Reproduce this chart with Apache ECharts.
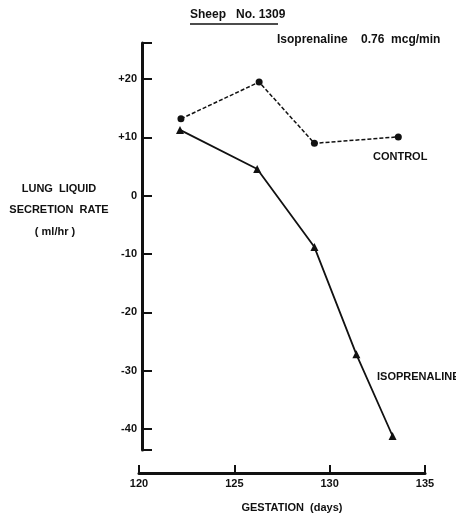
<!DOCTYPE html>
<html><head><meta charset="utf-8">
<script src="https://cdn.jsdelivr.net/npm/echarts@6/dist/echarts.min.js"></script>
<style>html,body{margin:0;padding:0;background:#fff}#c{width:456px;height:515px}</style>
</head><body><div id="c"></div>
<script>
var controlDays = [122.2, 126.3, 129.2, 133.6];
var controlRate = [13.2, 19.5, 9.0, 10.1];
var isoDays = [122.15, 126.2, 129.2, 131.4, 133.3];
var isoRate = [11.3, 4.6, -8.8, -27.2, -41.2];
var xTicks = [120, 125, 130, 135];
var yTicks = [20, 10, 0, -10, -20, -30, -40];

var FONT = "'Liberation Sans Narrow','Liberation Sans',Arial,sans-serif";
var INK = '#111';
function pairs(xs, ys){ return xs.map(function(x,i){ return [x, ys[i]]; }); }

var chart = echarts.init(document.getElementById('c'), null, {renderer:'canvas'});
chart.setOption({
  backgroundColor: '#fff',
  animation: false,
  grid: {left: 139, right: 31, top: 43, bottom: 65, containLabel: false},
  xAxis: {
    type: 'value', min: 120, max: 135, interval: 5, offset: 23,
    axisLine: {show: true, onZero: false, lineStyle: {color: INK, width: 3}},
    axisTick: {show: true, inside: true, length: 8, lineStyle: {color: INK, width: 2}},
    axisLabel: {color: INK, fontFamily: FONT, fontWeight: 'bold', fontSize: 11, margin: 5,
      customValues: xTicks},
    splitLine: {show: false}
  },
  yAxis: {
    type: 'value', min: -43.6, max: 26.2, offset: -3,
    axisLine: {show: true, onZero: false, lineStyle: {color: INK, width: 3}},
    axisTick: {show: true, inside: true, length: 10, lineStyle: {color: INK, width: 2}, customValues: yTicks.concat([-43.6, 26.2])},
    axisLabel: {color: INK, fontFamily: FONT, fontWeight: 'bold', fontSize: 11, margin: 5,
      customValues: yTicks,
      formatter: function(v){ return v > 0 ? '+' + v : String(v); }},
    splitLine: {show: false}
  },
  series: [
    {
      name: 'CONTROL', type: 'line', data: pairs(controlDays, controlRate),
      symbol: 'circle', symbolSize: 7,
      lineStyle: {color: INK, width: 1.5, type: [4, 2]},
      itemStyle: {color: INK}
    },
    {
      name: 'ISOPRENALINE', type: 'line', data: pairs(isoDays, isoRate),
      symbol: 'triangle', symbolSize: 8,
      lineStyle: {color: INK, width: 1.8},
      itemStyle: {color: INK}
    }
  ],
  graphic: [
    {type: 'text', left: 190, top: 9, style: {text: 'Sheep   No. 1309', font: 'bold 12px ' + FONT, fill: INK}},
    {type: 'line', shape: {x1: 190, y1: 24, x2: 278, y2: 24}, style: {stroke: INK, lineWidth: 1.5}},
    {type: 'text', left: 277, top: 34, style: {text: 'Isoprenaline    0.76  mcg/min', font: 'bold 12px ' + FONT, fill: INK}},
    {type: 'text', x: 373, y: 151, style: {text: 'CONTROL', font: 'bold 11px ' + FONT, fill: INK}},
    {type: 'text', x: 377, y: 371, style: {text: 'ISOPRENALINE', font: 'bold 11px ' + FONT, fill: INK}},
    {type: 'text', x: 292, y: 502, style: {text: 'GESTATION  (days)', font: 'bold 11px ' + FONT, fill: INK, align: 'center'}},
    {type: 'text', x: 59, y: 183, style: {text: 'LUNG  LIQUID', font: 'bold 11px ' + FONT, fill: INK, align: 'center'}},
    {type: 'text', x: 59, y: 204, style: {text: 'SECRETION  RATE', font: 'bold 11px ' + FONT, fill: INK, align: 'center'}},
    {type: 'text', x: 55, y: 226, style: {text: '( ml/hr )', font: 'bold 11px ' + FONT, fill: INK, align: 'center'}}
  ]
});
</script></body></html>
